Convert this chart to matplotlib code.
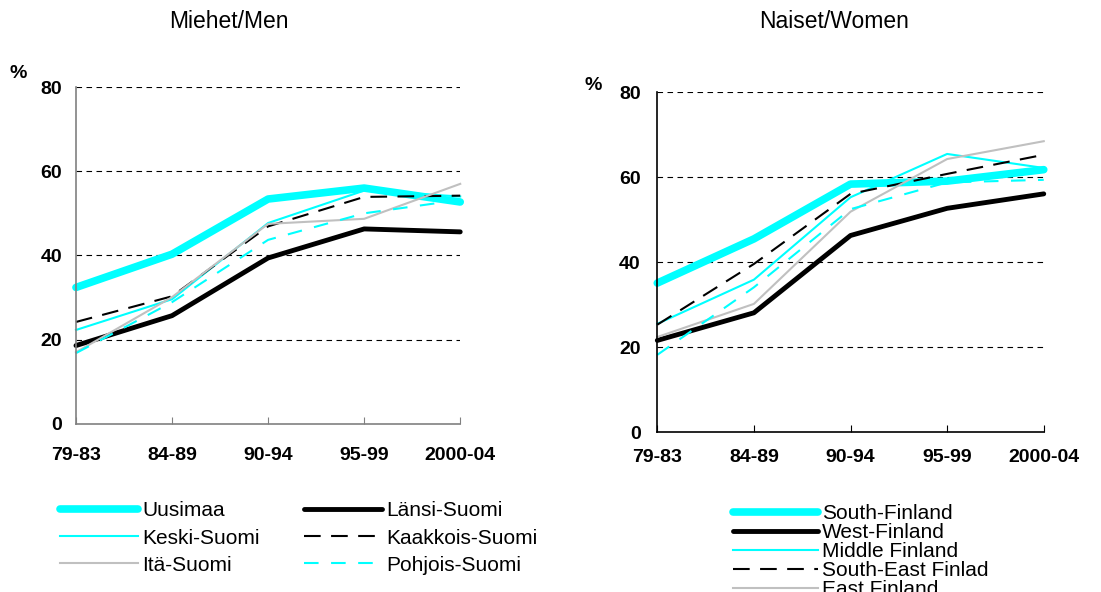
import matplotlib
matplotlib.use("Agg")
import matplotlib.pyplot as plt

plt.rcParams['font.family'] = ['Liberation Sans', 'DejaVu Sans']

periods = ['79-83', '84-89', '90-94', '95-99', '2000-04']

# Men (Miehet), percent
men_uusimaa = [32.4, 40.3, 53.4, 56.0, 52.7]
men_lansi = [18.6, 25.7, 39.4, 46.3, 45.6]
men_keski = [22.3, 29.6, 47.7, 55.4, 54.0]
men_kaakkois = [24.2, 30.3, 46.9, 53.9, 54.2]
men_ita = [17.0, 30.1, 47.5, 48.7, 57.0]
men_pohjois = [16.8, 28.9, 43.7, 50.0, 53.2]

# Women (Naiset), percent
women_south = [35.1, 45.5, 58.4, 59.1, 61.8]
women_west = [21.6, 28.1, 46.3, 52.7, 56.1]
women_middle = [25.5, 35.9, 55.3, 65.5, 62.2]
women_southeast = [25.3, 39.6, 56.1, 60.8, 65.3]
women_east = [22.4, 30.2, 51.9, 64.3, 68.5]
women_north = [18.2, 34.1, 52.5, 58.8, 59.4]

labels_fi = ['Uusimaa', 'Länsi-Suomi', 'Keski-Suomi', 'Kaakkois-Suomi', 'Itä-Suomi', 'Pohjois-Suomi']
labels_en = ['South-Finland', 'West-Finland', 'Middle Finland', 'South-East Finlad', 'East Finland', 'North Finland']

styles = [
    dict(color='#00FFFF', lw=5.5, solid_capstyle='round'),
    dict(color='black', lw=3.5, solid_capstyle='round'),
    dict(color='#00FFFF', lw=1.5),
    dict(color='black', lw=1.5, dashes=(8, 5)),
    dict(color='#C0C0C0', lw=1.5),
    dict(color='#00FFFF', lw=1.5, dashes=(7, 6)),
]


def setup_axes(ax, spine_color, pad_x, pad_y):
    ax.set_xlim(0, 4)
    ax.set_ylim(0, 80)
    ax.set_yticks([0, 20, 40, 60, 80])
    ax.set_xticks(range(len(periods)))
    ax.set_xticklabels(periods)
    for s in ['top', 'right']:
        ax.spines[s].set_visible(False)
    for s in ['left', 'bottom']:
        ax.spines[s].set_color(spine_color)
        ax.spines[s].set_linewidth(1.2)
    ax.tick_params(axis='y', length=0, pad=pad_y, labelsize=14)
    ax.tick_params(axis='x', direction='in', length=5, color=spine_color,
                   pad=pad_x, labelsize=14)
    for t in ax.get_xticklabels() + ax.get_yticklabels():
        t.set_fontweight('bold')
    for v in [20, 40, 60, 80]:
        ax.axhline(v, color='black', lw=0.8, dashes=(5, 4), zorder=0)


fig = plt.figure(figsize=(11.01, 5.92), dpi=100)
ax1 = fig.add_axes([0.069, 0.284, 0.349, 0.569])
ax2 = fig.add_axes([0.597, 0.270, 0.351, 0.574])

men = [men_uusimaa, men_lansi, men_keski, men_kaakkois, men_ita, men_pohjois]
women = [women_south, women_west, women_middle, women_southeast, women_east, women_north]

x = range(len(periods))
h1 = []
for vals, st, lab in zip(men, styles, labels_fi):
    ln, = ax1.plot(x, vals, label=lab, clip_on=False, **st)
    h1.append(ln)
h2 = []
for vals, st, lab in zip(women, styles, labels_en):
    ln, = ax2.plot(x, vals, label=lab, clip_on=False, **st)
    h2.append(ln)

setup_axes(ax1, '#808080', 17, 10)
setup_axes(ax2, 'black', 12, 12)

fig.text(0.2075, 0.963, 'Miehet/Men', ha='center', va='center', fontsize=16.5)
fig.text(0.758, 0.963, 'Naiset/Women', ha='center', va='center', fontsize=16.5)
fig.text(0.0168, 0.875, '%', ha='center', va='center', fontsize=14, fontweight='bold')
fig.text(0.5386, 0.856, '%', ha='center', va='center', fontsize=14, fontweight='bold')

order = [0, 2, 4, 1, 3, 5]
fig.legend([h1[i] for i in order], [labels_fi[i] for i in order],
           loc='upper left', bbox_to_anchor=(0.0545, 0.153), ncol=2,
           frameon=False, fontsize=15, handlelength=3.75, handletextpad=0.2,
           columnspacing=2.1, labelspacing=0.39, borderaxespad=0, borderpad=0)
fig.legend(h2, labels_en, loc='upper left', bbox_to_anchor=(0.6658, 0.148),
           frameon=False, fontsize=15, handlelength=4.1, handletextpad=0.15,
           labelspacing=0.0, borderaxespad=0, borderpad=0)

fig.savefig('out.png', dpi=100)
